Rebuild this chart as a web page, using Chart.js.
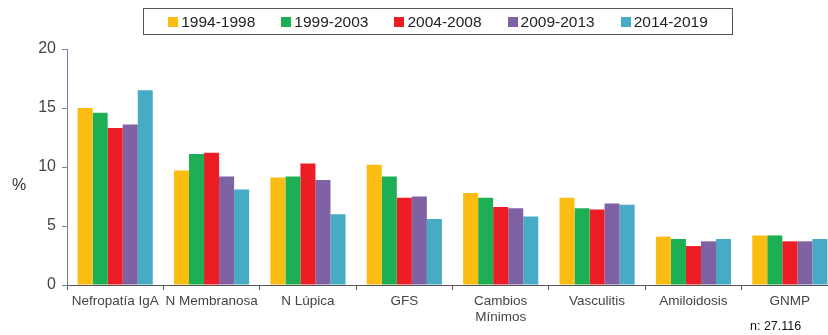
<!DOCTYPE html>
<html>
<head>
<meta charset="utf-8">
<script src="https://cdn.jsdelivr.net/npm/chart.js@4.4.1/dist/chart.umd.min.js"></script>
<style>
    html, body { margin: 0; padding: 0; background: #fff; overflow: hidden; }
    #wrap { position: relative; width: 828px; height: 335px; overflow: hidden; }
    #chart { position: absolute; left: 0; top: 0; }
    #legend {
        position: absolute; left: 143px; top: 8px; width: 588px; height: 25px;
        border: 1px solid #555; box-sizing: content-box;
        display: flex; align-items: center; justify-content: center;
        font-family: "Liberation Sans", Arial, sans-serif; font-size: 15.5px; color: #222;
    }
    #legend span.item { display: flex; align-items: center; margin: 0 13px; }
    #legend i { display: inline-block; width: 10px; height: 10px; margin-right: 3px; }
    #note {
        position: absolute; left: 750px; top: 319px;
        font-family: "Liberation Sans", Arial, sans-serif; font-size: 12.5px; color: #111;
    }
</style>
</head>
<body>
<div id="wrap">
    <canvas id="chart" width="840" height="335"></canvas>
    <div id="legend"></div>
    <div id="note">n: 27.116</div>
</div>
<script>
// Categories (x axis)
const categories = [
    'Nefropatía IgA', 'N Membranosa', 'N Lúpica', 'GFS',
    ['Cambios', 'Mínimos'], 'Vasculitis', 'Amiloidosis', 'GNMP'
];

// Periods (legend)
const periods = ['1994-1998', '1999-2003', '2004-2008', '2009-2013', '2014-2019'];
const colors = ['#FBBD12', '#1DAF54', '#EC1D25', '#7F62A3', '#47ABC6'];

// Percentages per period
const p1994 = [15.0, 9.7, 9.1, 10.2, 7.8, 7.4, 4.1, 4.2];
const p1999 = [14.6, 11.1, 9.2, 9.2, 7.4, 6.5, 3.9, 4.2];
const p2004 = [13.3, 11.2, 10.3, 7.4, 6.6, 6.4, 3.3, 3.7];
const p2009 = [13.6, 9.2, 8.9, 7.5, 6.5, 6.9, 3.7, 3.7];
const p2014 = [16.5, 8.1, 6.0, 5.6, 5.8, 6.8, 3.9, 3.9];
const series = [p1994, p1999, p2004, p2009, p2014];

const yTicks = [0, 5, 10, 15, 20];

// HTML legend with a framed box
const legendEl = document.getElementById('legend');
periods.forEach((label, i) => {
    const item = document.createElement('span');
    item.className = 'item';
    item.innerHTML = `<i style="background:${colors[i]}"></i>${label}`;
    legendEl.appendChild(item);
});

// Horizontal "%" axis title
const percentTitle = {
    id: 'percentTitle',
    afterDraw(chart) {
        const { ctx, chartArea } = chart;
        ctx.save();
        ctx.font = '16px "Liberation Sans", Arial, sans-serif';
        ctx.fillStyle = '#333';
        ctx.textAlign = 'center';
        ctx.textBaseline = 'middle';
        ctx.fillText('%', 19, (chartArea.top + chartArea.bottom) / 2 + 19);
        ctx.restore();
    }
};

const ctx = document.getElementById('chart').getContext('2d');
new Chart(ctx, {
    type: 'bar',
    data: {
        labels: categories,
        datasets: series.map((values, i) => ({
            label: periods[i],
            data: values,
            backgroundColor: colors[i],
            borderWidth: 0,
            categoryPercentage: 0.78,
            barPercentage: 1.0
        }))
    },
    options: {
        responsive: false,
        animation: false,
        devicePixelRatio: 1,
        layout: { padding: { top: 49, left: 0, right: 2, bottom: 0 } },
        plugins: {
            legend: { display: false },
            tooltip: { enabled: false }
        },
        scales: {
            x: {
                grid: {
                    display: true,
                    drawOnChartArea: false,
                    tickLength: 5,
                    color: '#555'
                },
                border: { color: '#555', width: 1 },
                ticks: {
                    autoSkip: false,
                    maxRotation: 0,
                    padding: 3,
                    color: '#444',
                    font: { family: '"Liberation Sans", Arial, sans-serif', size: 13.5, lineHeight: 1.2 }
                },
                afterFit: (scale) => { scale.height = 50; }
            },
            y: {
                min: 0,
                max: 20,
                afterBuildTicks: (scale) => { scale.ticks = yTicks.map(v => ({ value: v })); },
                grid: {
                    display: true,
                    drawOnChartArea: false,
                    tickLength: 5,
                    color: '#7482A3'
                },
                border: { color: '#7482A3', width: 1 },
                ticks: {
                    padding: 6,
                    color: '#444',
                    font: { family: '"Liberation Sans", Arial, sans-serif', size: 16 }
                },
                afterFit: (scale) => { scale.width = 67; }
            }
        }
    },
    plugins: [percentTitle]
});
</script>
</body>
</html>
